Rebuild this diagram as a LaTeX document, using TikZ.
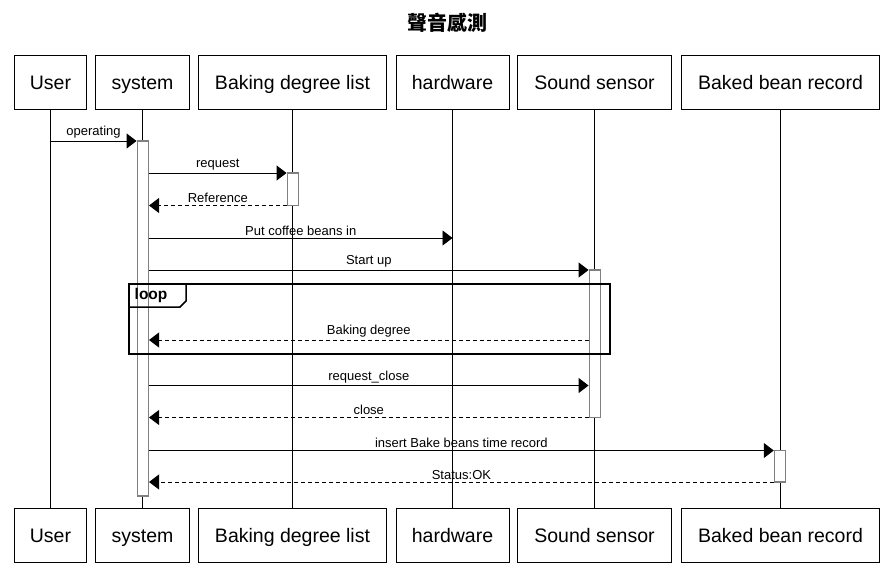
\documentclass[tikz,border=0pt]{standalone}
\usepackage{fontspec}
\setmainfont{Liberation Sans}
\newfontfamily\cjk{Noto Sans CJK TC}
\usetikzlibrary{arrows.meta}

\tikzset{
  head/.style={draw, minimum height=54pt, inner sep=0pt, text height=14pt, text depth=0pt, line width=0.9pt, font=\fontsize{19.5}{23}\selectfont},
  bar/.style={draw=gray, fill=white, line width=1.5pt, minimum width=11pt, inner sep=0pt},
  msg/.style={-{Triangle[length=10pt,width=15pt]}, line width=0.9pt},
  reply/.style={msg, dash pattern=on 4pt off 3pt},
  lbl/.style={midway, above, inner sep=2pt, font=\fontsize{13}{15}\selectfont},
  loopbox/.style={draw, line width=1.5pt, inner sep=0pt, anchor=north west},
}

\begin{document}
\begin{tikzpicture}[x=1pt, y=-1pt]
  \useasboundingbox (0,0) rectangle (893,586);
  \node[font=\cjk\bfseries\fontsize{20}{24}\selectfont] (title) at (447,23) {聲音感測};
  % participants, top and bottom, with their lifelines
  \foreach \n/\x/\w/\t in {user/50.5/72/User, sys/142.5/94/system, list/292.5/188/Baking degree list,
      hw/452.5/113/hardware, sensor/594.5/154/Sound sensor, record/780.5/198/Baked bean record}{
    \node[head, minimum width=\w pt] (\n) at (\x,82) {\t};
    \node[head, minimum width=\w pt] (\n-f) at (\x,535.5) {\t};
    \draw[line width=0.9pt] (\n) -- (\n-f);
  }
  % message rows
  \foreach \r/\y in {1/141, 2/173, 3/205.5, 4/238, 5/270, 6/340, 7/385.5, 8/417.5, 9/450.5, 10/482}
    \coordinate (r\r) at (0,\y);
  % activations
  \node[bar, minimum height=355pt] (sysact) at (142.8,318.5) {};
  \node[bar, minimum height=32.5pt] (listact) at (292.8,189.3) {};
  \node[bar, minimum height=147.5pt] (sensoract) at (594.8,343.8) {};
  \node[bar, minimum height=31.5pt] (recordact) at (780,466.3) {};
  % loop frame
  \node[loopbox, minimum width=481pt, minimum height=70pt] (loop) at (128,283) {};
  \draw[line width=1.5pt] (loop.north west) ++(0,24) -- ++(52,0) -- ++(6,-6) -- ++(0,-18);
  \node[anchor=west, inner sep=0pt, font=\bfseries\fontsize{15.5}{18}\selectfont] (looplbl) at (134.5,295.5) {loop};
  % messages
  \draw[msg] (user |- r1) -- (sysact.west |- r1) node[lbl]{operating};
  \draw[msg] (sysact.east |- r2) -- (listact.west |- r2) node[lbl]{request};
  \draw[reply] (listact.west |- r3) -- (sysact.east |- r3) node[lbl]{Reference};
  \draw[msg] (sysact.east |- r4) -- (hw |- r4) node[lbl]{Put coffee beans in};
  \draw[msg] (sysact.east |- r5) -- (sensoract.west |- r5) node[lbl]{Start up};
  \draw[reply] (sensoract.west |- r6) -- (sysact.east |- r6) node[lbl]{Baking degree};
  \draw[msg] (sysact.east |- r7) -- (sensoract.west |- r7) node[lbl]{request\_close};
  \draw[reply] (sensoract.west |- r8) -- (sysact.east |- r8) node[lbl]{close};
  \draw[msg] (sysact.east |- r9) -- (recordact.west |- r9) node[lbl]{insert Bake beans time record};
  \draw[reply] (recordact.west |- r10) -- (sysact.east |- r10) node[lbl]{Status:OK};
\end{tikzpicture}
\end{document}
